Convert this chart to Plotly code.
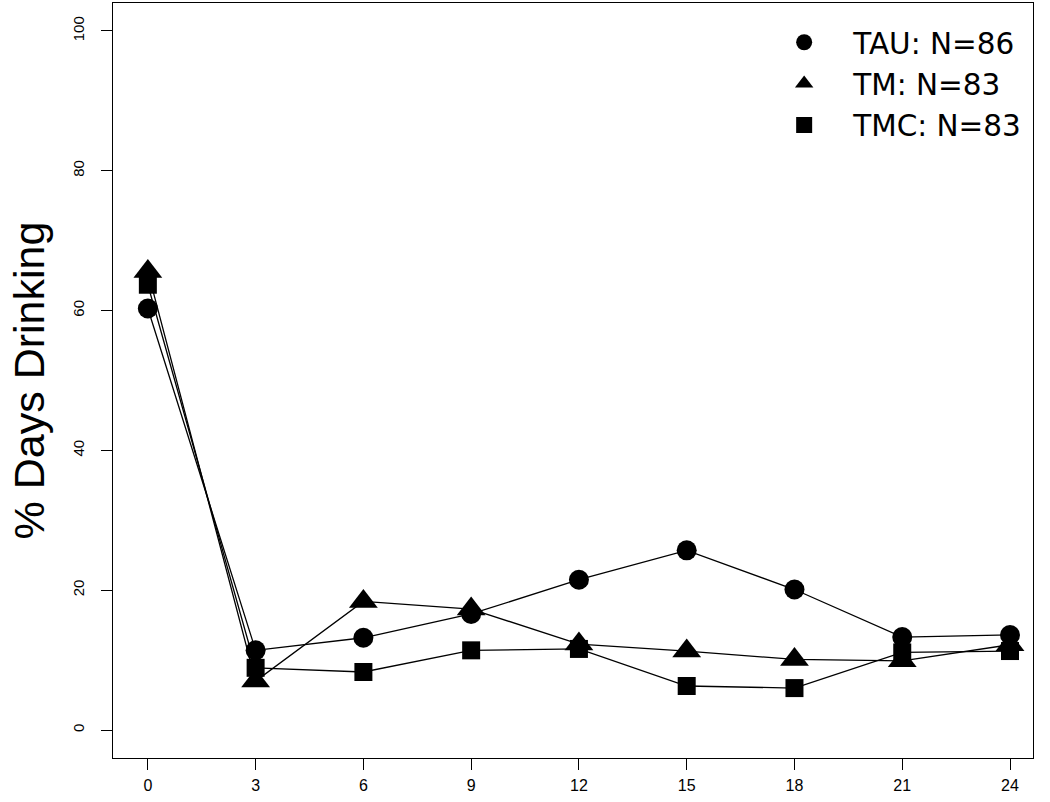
import plotly.graph_objects as go

months = [0, 3, 6, 9, 12, 15, 18, 21, 24]
tau = [60.3, 11.4, 13.2, 16.6, 21.5, 25.7, 20.1, 13.3, 13.6]
tm = [65.6, 7.0, 18.4, 17.3, 12.3, 11.3, 10.1, 9.9, 12.2]
tmc = [63.7, 8.9, 8.3, 11.4, 11.6, 6.3, 6.0, 11.1, 11.3]

series = [
    ("TAU: N=86", tau, "circle", 20),
    ("TM: N=83", tm, "triangle-up", 25),
    ("TMC: N=83", tmc, "square", 18),
]

fig = go.Figure()
for name, values, symbol, size in series:
    fig.add_trace(
        go.Scatter(
            x=months,
            y=values,
            mode="lines+markers",
            line=dict(color="black", width=1.3),
            marker=dict(symbol=symbol, size=size, color="black"),
            showlegend=False,
        )
    )
    # legend entry with marker only
    fig.add_trace(
        go.Scatter(
            x=[None],
            y=[None],
            mode="markers",
            marker=dict(symbol=symbol, size=size, color="black"),
            name=name,
        )
    )

fig.update_layout(
    width=1050,
    height=802,
    margin=dict(l=113, r=17, t=3, b=44),
    plot_bgcolor="white",
    paper_bgcolor="white",
    font=dict(family="Liberation Sans, Arial, sans-serif", color="black"),
    legend=dict(
        x=0.698,
        y=0.982,
        xanchor="left",
        yanchor="top",
        font=dict(family="DejaVu Sans", size=29.5),
        bgcolor="rgba(0,0,0,0)",
        itemsizing="trace",
        itemwidth=88,
    ),
    xaxis=dict(
        range=[-0.97, 24.64],
        tickvals=months,
        ticks="outside",
        ticklen=11,
        tickcolor="black",
        tickfont=dict(size=16),
        ticklabelstandoff=2,
        showline=True,
        mirror=True,
        linecolor="black",
        linewidth=1,
        showgrid=False,
        zeroline=False,
    ),
    yaxis=dict(
        range=[-4, 104],
        tickvals=[0, 20, 40, 60, 80, 100],
        tickangle=-90,
        ticks="outside",
        ticklen=11,
        tickcolor="black",
        tickfont=dict(size=15),
        ticklabelstandoff=11,
        showline=True,
        mirror=True,
        linecolor="black",
        linewidth=1,
        showgrid=False,
        zeroline=False,
        title=dict(text="% Days Drinking", font=dict(size=43), standoff=11),
    ),
)

fig.write_html(
    "out.html",
    config={"displayModeBar": False},
    post_script="document.body.style.margin='0';",
)
